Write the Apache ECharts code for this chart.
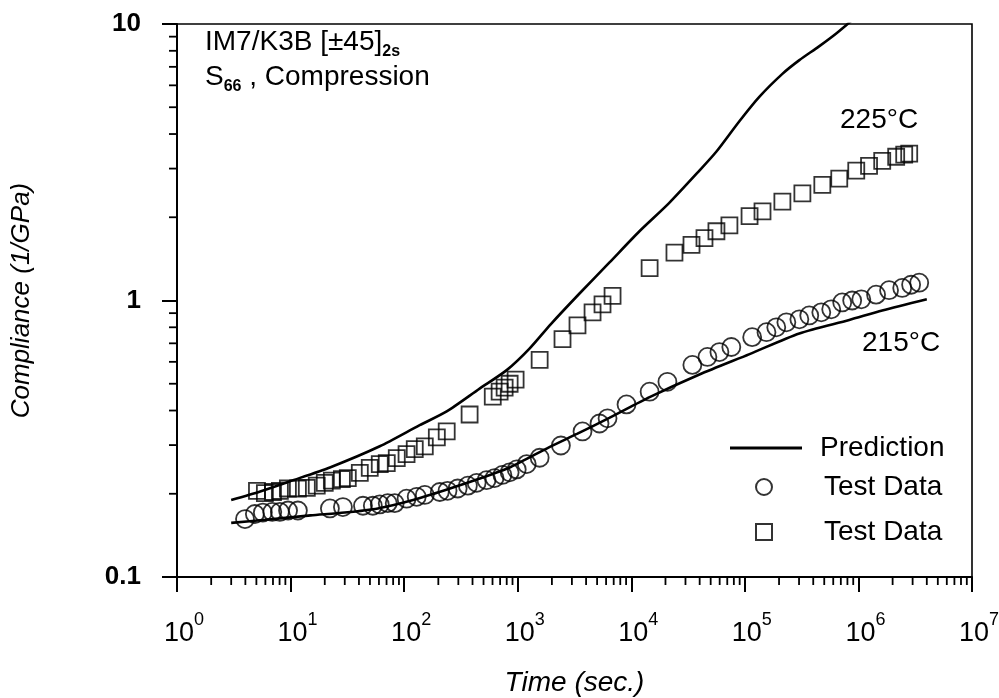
<!DOCTYPE html>
<html>
<head>
<meta charset="utf-8">
<script src="https://cdn.jsdelivr.net/npm/echarts@6/dist/echarts.min.js"></script>
<style>
html,body{margin:0;padding:0;background:#fff;}
#c{width:999px;height:698px;}
</style>
</head>
<body>
<div id="c"></div>
<script>
// ---- data (time in s, compliance in 1/GPa) ----
const pred215X = [3.0, 6, 15, 30, 58.6, 120, 228, 450, 867, 1900, 3360, 6400, 14500, 39800, 110000, 302000, 830000, 1.62e6, 4.0e6];
const pred215Y = [0.157, 0.161, 0.167, 0.171, 0.177, 0.19, 0.206, 0.226, 0.25, 0.295, 0.33, 0.376, 0.447, 0.54, 0.64, 0.76, 0.85, 0.92, 1.01];

const pred225X = [3.0, 5.4, 9.9, 22.2, 61, 137, 237, 462, 800, 1270, 1950, 3500, 6400, 11800, 21500, 39800, 56000, 89500, 134000, 214000, 302000, 450000, 650000, 1.0e6];
const pred225Y = [0.19, 0.204, 0.222, 0.249, 0.297, 0.354, 0.397, 0.48, 0.56, 0.67, 0.82, 1.06, 1.37, 1.78, 2.25, 2.95, 3.45, 4.45, 5.45, 6.6, 7.4, 8.3, 9.3, 10.8];

const test215X = [3.97, 4.85, 5.7, 6.9, 8.05, 9.5, 11.6, 22.2, 28.9, 43.4, 53, 61, 71.7, 82.6, 105, 129, 152, 206, 241, 296, 364, 435, 531, 625, 733, 849, 980, 1200, 1560, 2400, 3720, 5250, 6180, 9080, 14500, 20800, 34500, 46800, 59700, 76000, 116000, 155000, 189000, 232000, 302000, 369000, 471000, 576000, 720000, 881000, 1.06e6, 1.43e6, 1.86e6, 2.43e6, 2.91e6, 3.43e6];
const test215Y = [0.162, 0.169, 0.171, 0.172, 0.172, 0.174, 0.174, 0.177, 0.179, 0.181, 0.181, 0.183, 0.185, 0.185, 0.192, 0.195, 0.198, 0.203, 0.205, 0.209, 0.214, 0.219, 0.224, 0.228, 0.234, 0.239, 0.245, 0.256, 0.270, 0.299, 0.336, 0.359, 0.375, 0.421, 0.468, 0.508, 0.585, 0.625, 0.651, 0.679, 0.737, 0.768, 0.800, 0.834, 0.855, 0.883, 0.906, 0.929, 0.984, 1.0, 1.01, 1.05, 1.09, 1.11, 1.14, 1.16];

const test225X = [5.06, 5.94, 7.0, 8.05, 9.47, 11.6, 13.9, 17.0, 20.0, 23.1, 28.3, 31.9, 40.7, 49.8, 61, 70.3, 86.1, 105, 124, 152, 194, 237, 377, 603, 693, 767, 849, 958, 1560, 2480, 3360, 4560, 5580, 6840, 14500, 24000, 33900, 44100, 56200, 73100, 110000, 143000, 214000, 321000, 481000, 678000, 957000, 1.24e6, 1.62e6, 2.15e6, 2.53e6, 2.8e6];
const test225Y = [0.205, 0.201, 0.203, 0.205, 0.209, 0.209, 0.210, 0.214, 0.219, 0.223, 0.226, 0.228, 0.238, 0.248, 0.256, 0.258, 0.269, 0.278, 0.290, 0.297, 0.320, 0.336, 0.387, 0.449, 0.468, 0.484, 0.500, 0.517, 0.610, 0.725, 0.813, 0.906, 0.968, 1.04, 1.31, 1.49, 1.59, 1.68, 1.78, 1.87, 2.02, 2.10, 2.28, 2.44, 2.62, 2.76, 2.95, 3.07, 3.20, 3.31, 3.37, 3.40];

const xRange = [1, 1e7];
const yRange = [0.1, 10];
const minorMultipliers = [2, 3, 4, 5, 6, 7, 8, 9];

// ---- build ----
const FONT = '"Liberation Sans", Arial, Helvetica, sans-serif';
const zip = (xs, ys) => xs.map((x, i) => [x, ys[i]]);

const minorX = [];
for (let e = 0; e < 7; e++) minorMultipliers.forEach(m => minorX.push(m * Math.pow(10, e)));
const minorY = [];
for (let e = -1; e < 1; e++) minorMultipliers.forEach(m => minorY.push(+(m * Math.pow(10, e)).toPrecision(3)));

const chart = echarts.init(document.getElementById('c'), null, {renderer: 'canvas'});

const lineStyle = {color: '#000', width: 2.6};
const markerStyle = {color: 'rgba(0,0,0,0)', borderColor: '#000', borderWidth: 1.8};
const TXT = 28;

chart.setOption({
  animation: false,
  backgroundColor: '#fff',
  textStyle: {fontFamily: FONT, color: '#000'},
  grid: {left: 177, right: 27, top: 24, bottom: 121, containLabel: false, outerBoundsMode: 'none',
    show: true, borderColor: '#000', borderWidth: 1.6, backgroundColor: 'transparent'},
  xAxis: {
    type: 'log', logBase: 10, min: xRange[0], max: xRange[1], interval: 1,
    name: 'Time (sec.)', nameLocation: 'middle', nameGap: 92,
    nameTextStyle: {fontFamily: FONT, fontSize: TXT, fontStyle: 'italic', color: '#000'},
    axisLine: {lineStyle: {color: '#000', width: 2}},
    axisTick: {show: true, inside: false, length: 15, lineStyle: {color: '#000', width: 2}},
    minorTick: {show: false},
    splitLine: {show: false},
    axisLabel: {
      margin: 34, color: '#000',
      formatter: function (v) { return '{b|10}{s|' + Math.round(Math.log10(v)) + '}'; },
      rich: {
        b: {fontFamily: FONT, fontSize: 27, lineHeight: 36, verticalAlign: 'bottom', color: '#000', padding: [0, 0, 0, 14]},
        s: {fontFamily: FONT, fontSize: 18, lineHeight: 18, verticalAlign: 'top', color: '#000'}
      }
    }
  },
  yAxis: {
    type: 'log', logBase: 10, min: yRange[0], max: yRange[1], interval: 1,
    name: 'Compliance (1/GPa)', nameLocation: 'middle', nameGap: 142,
    nameTextStyle: {fontFamily: FONT, fontSize: 26, fontStyle: 'italic', color: '#000'},
    axisLine: {lineStyle: {color: '#000', width: 2}},
    axisTick: {show: true, inside: false, length: 15, lineStyle: {color: '#000', width: 2}},
    splitLine: {show: false},
    axisLabel: {
      margin: 36, color: '#000', fontFamily: FONT, fontSize: 26, fontWeight: 'bold',
      formatter: function (v) { return v >= 1 ? String(Math.round(v)) : String(+v.toFixed(1)); }
    }
  },
  legend: [
    {
      data: [{name: 'Prediction', icon: 'path://M0,0H72V3H0Z'}], orient: 'vertical', left: 725, top: 427,
      itemWidth: 72, itemHeight: 3, selectedMode: false,
      textStyle: {fontFamily: FONT, fontSize: TXT, color: '#000', lineHeight: 32, padding: [0, 0, 0, 13]}
    },
    {
      data: ['Test Data 215', 'Test Data 225'], orient: 'vertical', left: 750, top: 466,
      itemWidth: 16, itemHeight: 16, itemGap: 13, selectedMode: false,
      formatter: function () { return 'Test Data'; },
      textStyle: {fontFamily: FONT, fontSize: TXT, color: '#000', lineHeight: 32, padding: [0, 0, 0, 47]}
    }
  ],
  graphic: [
    {type: 'text', left: 205, top: 28, silent: true, style: {
      text: '{a|IM7/K3B [±45]}{b|2s}',
      rich: {
        a: {fontFamily: FONT, fontSize: TXT, lineHeight: 36, fill: '#000', verticalAlign: 'middle'},
        b: {fontFamily: FONT, fontSize: 16, fontWeight: 'bold', lineHeight: 16, fill: '#000', verticalAlign: 'bottom'}
      }}},
    {type: 'text', left: 205, top: 63, silent: true, style: {
      text: '{a|S}{b|66}{a| , Compression}',
      rich: {
        a: {fontFamily: FONT, fontSize: TXT, lineHeight: 36, fill: '#000', verticalAlign: 'middle'},
        b: {fontFamily: FONT, fontSize: 16, fontWeight: 'bold', lineHeight: 16, fill: '#000', verticalAlign: 'bottom'}
      }}},
    {type: 'text', left: 840, top: 106, silent: true, style: {text: '225°C', font: TXT + 'px ' + FONT, fill: '#000'}},
    {type: 'text', left: 862, top: 329, silent: true, style: {text: '215°C', font: TXT + 'px ' + FONT, fill: '#000'}}
  ],
  series: [
    {name: 'Prediction', type: 'line', data: zip(pred215X, pred215Y), showSymbol: false, symbol: 'none', smooth: 0.25, lineStyle: lineStyle, itemStyle: {color: '#000'}, clip: true, z: 3},
    {name: 'Prediction', type: 'line', data: zip(pred225X, pred225Y), showSymbol: false, symbol: 'none', smooth: 0.25, lineStyle: lineStyle, itemStyle: {color: '#000'}, clip: true, z: 3},
    {name: 'Test Data 215', type: 'scatter', data: zip(test215X, test215Y), symbol: 'circle', symbolSize: 18, itemStyle: markerStyle, z: 4},
    {name: 'Test Data 225', type: 'scatter', data: zip(test225X, test225Y), symbol: 'rect', symbolSize: 16, itemStyle: markerStyle, z: 4},
    {type: 'custom', name: 'xMinor', silent: true, clip: false, data: minorX.map(v => [v, yRange[0]]),
      renderItem: function (params, api) {
        const p = api.coord([api.value(0), yRange[0]]);
        return {type: 'line', shape: {x1: p[0], y1: p[1], x2: p[0], y2: p[1] + 8}, style: {stroke: '#000', lineWidth: 1.8}};
      }},
    {type: 'custom', name: 'yMinor', silent: true, clip: false, data: minorY.map(v => [xRange[0], v]),
      renderItem: function (params, api) {
        const p = api.coord([xRange[0], api.value(1)]);
        return {type: 'line', shape: {x1: p[0], y1: p[1], x2: p[0] - 8, y2: p[1]}, style: {stroke: '#000', lineWidth: 1.8}};
      }}
  ]
});
</script>
</body>
</html>
